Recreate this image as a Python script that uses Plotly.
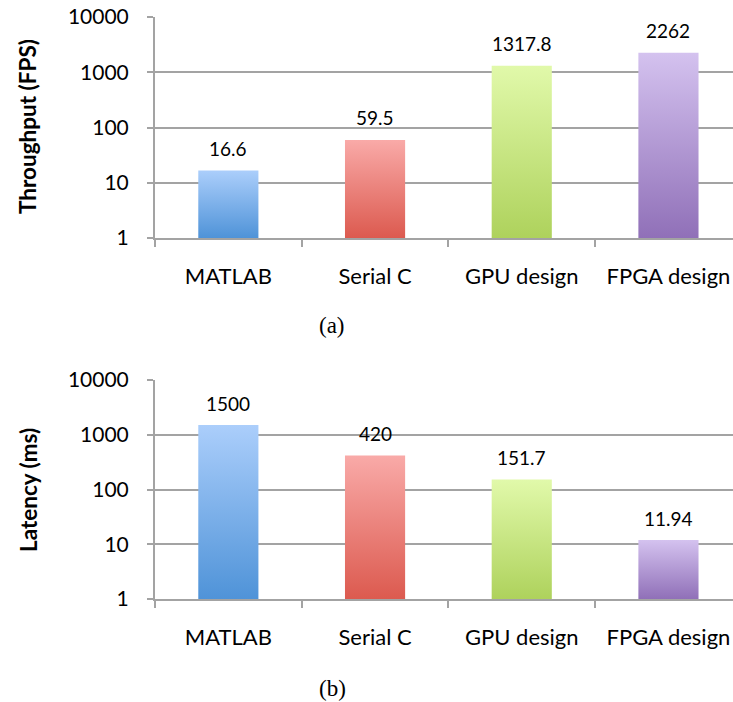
import math
import plotly.graph_objects as go

# Categories and measured values
designs = ["MATLAB", "Serial C", "GPU design", "FPGA design"]
throughput_fps = [16.6, 59.5, 1317.8, 2262]
latency_ms = [1500, 420, 151.7, 11.94]
throughput_labels = ["16.6", "59.5", "1317.8", "2262"]
latency_labels = ["1500", "420", "151.7", "11.94"]

# Per-bar gradient colours (bottom, top)
bar_bottom = ["#4f93d8", "#dc5a4f", "#aed25c", "#9070b8"]
bar_top = ["#abcefb", "#f9aaa8", "#e1f9aa", "#d4c2ef"]

ytick_vals = [1, 10, 100, 1000, 10000]
ytick_text = ["1", "10", "100", "1000", "10000"]

W, H = 733, 702
BAR_W = 0.41
GRID = "#a3a3a3"
FONT = "Lato"
INK = "#000000"

fig = go.Figure()


def add_panel(values, labels, xa, ya):
    xref = "x" if xa == "xaxis" else "x2"
    yref = "y" if ya == "yaxis" else "y2"
    for i, v in enumerate(values):
        # bar outline as a closed polygon from the axis floor (1) to the value
        xs = [i - BAR_W / 2, i + BAR_W / 2, i + BAR_W / 2, i - BAR_W / 2, i - BAR_W / 2]
        ys = [1, 1, v, v, 1]
        fig.add_trace(go.Scatter(
            x=xs, y=ys, xaxis=xref, yaxis=yref, mode="lines",
            line=dict(width=0, color="rgba(0,0,0,0)"),
            fill="toself",
            fillgradient=dict(type="vertical",
                              colorscale=[[0, bar_bottom[i]], [1, bar_top[i]]]),
            hoverinfo="skip", showlegend=False,
        ))
        fig.add_annotation(
            x=i, y=math.log10(v), xref=xref, yref=yref, text=labels[i],
            showarrow=False, yanchor="middle", yshift=22,
            font=dict(family=FONT, size=19, color=INK),
        )


add_panel(throughput_fps, throughput_labels, "xaxis", "yaxis")
add_panel(latency_ms, latency_labels, "xaxis2", "yaxis2")

x0 = 155 / W
top_dom = [(H - 238) / H, (H - 17) / H]
bot_dom = [(H - 599) / H, (H - 380) / H]

xaxis_common = dict(
    range=[-0.5, 3.44], tickmode="array", tickvals=list(range(len(designs))),
    ticktext=designs, ticks="", showgrid=False, zeroline=False,
    showline=True, linecolor=GRID, linewidth=2,
    tickfont=dict(family=FONT, size=22, color=INK),
    ticklabelstandoff=18,
    minor=dict(tick0=-0.5, dtick=1, ticks="outside", ticklen=7,
               tickcolor=GRID, tickwidth=2, showgrid=False),
    domain=[x0, 1], fixedrange=True,
)
yaxis_common = dict(
    type="log", range=[0, 4], tickmode="array", tickvals=ytick_vals,
    ticktext=ytick_text, ticks="outside", ticklen=6, tickcolor=GRID, tickwidth=2,
    showgrid=True, gridcolor=GRID, gridwidth=2, zeroline=False,
    showline=True, linecolor=GRID, linewidth=2,
    tickfont=dict(family=FONT, size=21, color=INK),
    ticklabelstandoff=14, fixedrange=True,
)

fig.update_layout(
    width=W, height=H,
    margin=dict(l=0, r=0, t=0, b=0, autoexpand=False),
    paper_bgcolor="white", plot_bgcolor="white",
    xaxis=dict(**xaxis_common, anchor="y"),
    yaxis=dict(**yaxis_common, domain=top_dom, anchor="x"),
    xaxis2=dict(**xaxis_common, anchor="y2"),
    yaxis2=dict(**yaxis_common, domain=bot_dom, anchor="x2"),
    showlegend=False,
)

# Axis titles and panel captions
for text, yc in [("Throughput (FPS)", 127), ("Latency (ms)", 490)]:
    fig.add_annotation(
        x=28 / W, y=1 - yc / H, xref="paper", yref="paper", text=f"<b>{text}</b>",
        textangle=-90, showarrow=False, xanchor="center", yanchor="middle",
        font=dict(family=FONT, size=22.5, color=INK),
    )
for text, yc in [("(a)", 325), ("(b)", 688)]:
    fig.add_annotation(
        x=332 / W, y=1 - yc / H, xref="paper", yref="paper", text=text,
        showarrow=False, xanchor="center", yanchor="middle",
        font=dict(family="Liberation Serif", size=23, color=INK),
    )

fig.write_html("out.html")
